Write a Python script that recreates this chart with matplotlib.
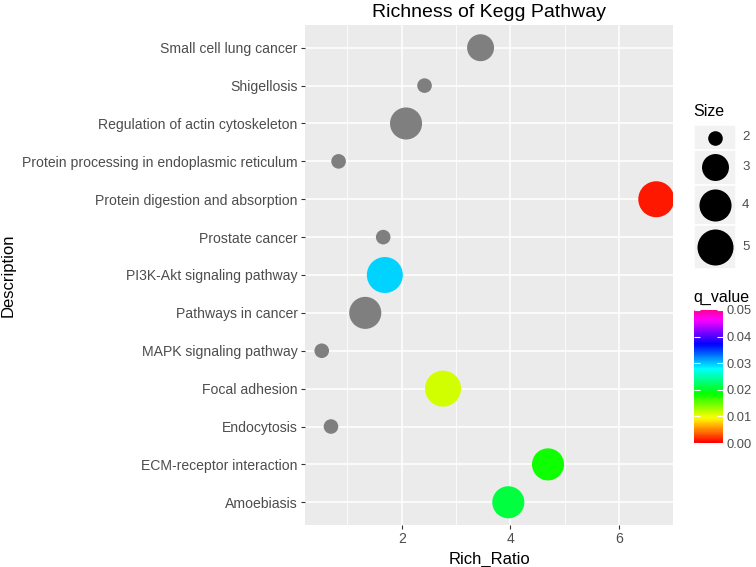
"""Bubble chart of KEGG pathway enrichment in a ggplot-like style."""

import matplotlib

matplotlib.use("Agg")
import matplotlib.pyplot as plt
import numpy as np
from matplotlib.colors import LinearSegmentedColormap, Normalize
from matplotlib.patches import Rectangle
from matplotlib.cm import ScalarMappable

plt.rcParams["font.family"] = ["Liberation Sans", "DejaVu Sans"]

# data, listed from top row to bottom row
pathways = [
    "Small cell lung cancer",
    "Shigellosis",
    "Regulation of actin cytoskeleton",
    "Protein processing in endoplasmic reticulum",
    "Protein digestion and absorption",
    "Prostate cancer",
    "PI3K-Akt signaling pathway",
    "Pathways in cancer",
    "MAPK signaling pathway",
    "Focal adhesion",
    "Endocytosis",
    "ECM-receptor interaction",
    "Amoebiasis",
]
rich_ratio = [3.45, 2.42, 2.08, 0.84, 6.68, 1.66, 1.69, 1.33, 0.53, 2.76, 0.70, 4.69, 3.96]
gene_count = [3, 2, 4, 2, 5, 2, 5, 4, 2, 5, 2, 4, 4]
q_value = [np.nan, np.nan, np.nan, np.nan, 0.001, np.nan, 0.0295, np.nan, np.nan,
           0.011, np.nan, 0.018, 0.021]
size_levels = [2, 3, 4, 5]
q_ticks = [0.00, 0.01, 0.02, 0.03, 0.04, 0.05]

W, H = 756, 567
DPI = 100
TICK_GREY = "#4D4D4D"
PANEL_BG = "#EBEBEB"
NA_GREY = "#7F7F7F"

cmap = LinearSegmentedColormap.from_list(
    "rainbow_q", plt.get_cmap("hsv")(np.linspace(0.0, 0.91, 256))
)
norm = Normalize(0.0, 0.05)


def radius_px(count):
    # area-style size scale, measured off the legend keys
    frac = (np.asarray(count, dtype=float) - 2.0) / 3.0
    return 7.3 + 10.7 * np.sqrt(frac)


def marker_area(count):
    return (2.0 * radius_px(count) * 72.0 / DPI) ** 2


def fig_box(x0, y0, x1, y1):
    return [x0 / W, 1 - y1 / H, (x1 - x0) / W, (y1 - y0) / H]


fig = plt.figure(figsize=(W / DPI, H / DPI), dpi=DPI)
ax = fig.add_axes(fig_box(305, 25, 673, 525))

n = len(pathways)
y_pos = np.arange(n)[::-1] + 1
x = np.asarray(rich_ratio)
q = np.asarray(q_value)
colors = [NA_GREY if np.isnan(v) else cmap(norm(v)) for v in q]

ax.set_facecolor(PANEL_BG)
ax.scatter(x, y_pos, s=marker_area(gene_count), c=colors, linewidths=0, zorder=3)

pad = 0.05 * (x.max() - x.min())
ax.set_xlim(x.min() - pad, x.max() + pad)
ax.set_ylim(0.4, n + 0.6)
ax.set_xticks([2, 4, 6])
ax.set_xticks([1, 3, 5], minor=True)
ax.set_yticks(y_pos)
ax.set_yticklabels(pathways)
ax.grid(True, which="major", color="white", linewidth=1.1, zorder=0)
ax.grid(True, which="minor", axis="x", color="white", linewidth=0.55, zorder=0)
ax.set_axisbelow(True)
for side in ax.spines.values():
    side.set_visible(False)
ax.tick_params(axis="both", which="major", length=3.2, width=0.8, color="#333333",
               labelcolor=TICK_GREY, labelsize=10.1, pad=2)
ax.tick_params(axis="x", which="minor", length=0)

ax.set_title("Richness of Kegg Pathway", fontsize=14, pad=6)
ax.set_xlabel("Rich_Ratio", fontsize=12, labelpad=4)
ax.set_ylabel("Description", fontsize=12)
ax.yaxis.set_label_coords((16 - 305) / 368, 0.5)

# size legend
fig.text(693 / W, 1 - 112 / H, "Size", fontsize=11.5, va="center", ha="left")
leg = fig.add_axes(fig_box(694, 125, 736, 275))
leg.set_xlim(0, 42)
leg.set_ylim(150, 0)
leg.axis("off")
top = 0.0
for level in size_levels:
    r = float(radius_px(level))
    h = max(25.0, 2 * r + 8)
    leg.add_patch(Rectangle((0, top), 42, h, facecolor="#F2F2F2",
                            edgecolor="white", linewidth=1.2))
    leg.scatter([21], [top + h / 2], s=marker_area(level), c="black",
                linewidths=0, zorder=3)
    leg.text(48, top + h / 2, str(level), fontsize=9.5, color=TICK_GREY,
             va="center", ha="left", clip_on=False)
    top += h

# q_value colour bar
fig.text(693 / W, 1 - 297 / H, "q_value", fontsize=11.5, va="center", ha="left")
cax = fig.add_axes(fig_box(694, 310, 723, 443))
cb = fig.colorbar(ScalarMappable(norm=norm, cmap=cmap), cax=cax, ticks=q_ticks)
cb.outline.set_visible(False)
cb.ax.set_yticklabels([f"{t:.2f}" for t in q_ticks])
cax.yaxis.set_ticks_position("both")
cax.tick_params(axis="y", which="major", direction="in", length=4, width=0.8,
                color="white", labelcolor=TICK_GREY, labelsize=9.3, pad=2.5,
                left=True, right=True, labelleft=False, labelright=True)
cax.tick_params(axis="y", which="minor", length=0)

fig.savefig("out.png", dpi=DPI)
